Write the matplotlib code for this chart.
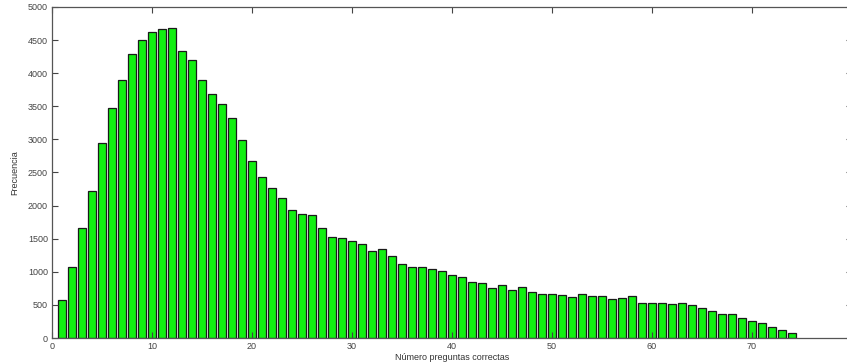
import matplotlib
matplotlib.use('Agg')
import matplotlib.pyplot as plt

# Respuestas correctas por alumno (1..74) y número de alumnos con ese resultado
preguntas = list(range(1, 75))
frecuencia = [575, 1070, 1665, 2220, 2940, 3480, 3890, 4290, 4505, 4620,
              4665, 4680, 4330, 4195, 3890, 3690, 3530, 3330, 2985, 2680,
              2430, 2265, 2120, 1930, 1880, 1865, 1655, 1530, 1515, 1470,
              1420, 1320, 1350, 1245, 1115, 1080, 1065, 1040, 1005, 945,
              915, 850, 825, 755, 795, 725, 775, 700, 660, 670,
              645, 620, 660, 630, 635, 590, 605, 635, 530, 530,
              530, 510, 530, 495, 455, 415, 370, 370, 300, 255,
              230, 170, 120, 70]

xticks = list(range(0, 81, 10))
yticks = list(range(0, 5001, 500))

plt.rcParams['font.family'] = ['Liberation Sans', 'DejaVu Sans']

fig = plt.figure(figsize=(8.47, 3.62), dpi=100)
ax = fig.add_axes([52 / 847, 24 / 362, 800 / 847, 331 / 362])

ax.bar(preguntas, frecuencia, width=0.8, color='#12f012',
       edgecolor='#1a1a1a', linewidth=0.9)

ax.set_xlim(0, 80)
ax.set_ylim(0, 5000)
ax.set_xticks(xticks)
ax.set_yticks(yticks)

# ejes estilo octave: marcas hacia dentro en los cuatro lados
ax.tick_params(direction='in', length=4.5, width=0.8, labelsize=6.5,
               colors='#444444', top=True, right=True, pad=3)
for s in ax.spines.values():
    s.set_color('#555555')
    s.set_linewidth(0.9)

ax.set_xlabel('Número preguntas correctas', fontsize=6.5, color='#333333', labelpad=1)
ax.set_ylabel('Frecuencia', fontsize=6.5, color='#333333', labelpad=6)

fig.savefig('out.png', dpi=100)
